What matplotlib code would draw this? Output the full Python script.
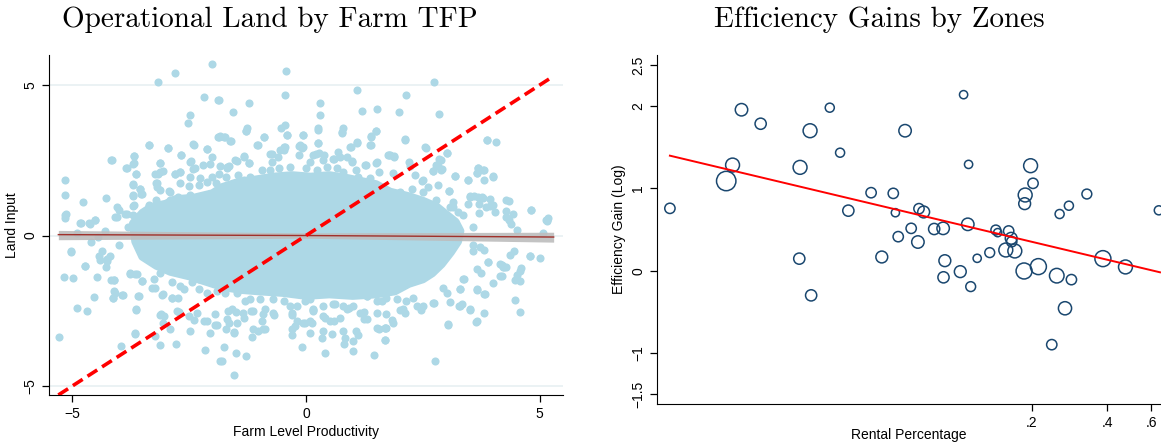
import numpy as np
import matplotlib
matplotlib.use("Agg")
import matplotlib.pyplot as plt
from matplotlib.ticker import FixedLocator, FixedFormatter, NullLocator

# ---- left panel: land input vs farm productivity
# scattered points away from the centre of the cloud
outer_x = [-2.01, -2.80, -3.16, -2.18, -1.89, -2.48, -2.53, -1.89, -3.35, -2.96, -2.39, -2.12, -4.17, -3.69, -2.67,
           -3.13, -3.83, -3.70, -3.64, -2.47, -2.01, -5.16, -5.16, -4.77, -4.29, -3.70, -3.56, -3.53, -3.70, -3.35,
           -3.21, -3.16, -3.07, -3.18, -2.80, -2.70, -2.93, -4.01, -4.08, -3.87, -3.71, -3.70, -3.42, -3.24, -3.03,
           -5.13, -5.15, -4.82, -4.51, -4.65,
           -0.42, -0.45, -1.87, -1.21, -1.57, 1.10, 1.19, 1.52, 0.31, 0.31, -1.27, -1.28, -1.86, -1.75, -1.62,
           -0.90, -1.03, -0.53, -0.45, -0.41, -0.07, 0.25, 0.25, -0.16, -0.06, 0.79, 0.76, 1.10, 0.96, 1.49,
           1.40, 1.37, 1.76, 1.50, 1.26, -0.73, -0.55, -0.45, -1.32, -1.22, -1.52, -1.65, -1.69, 0.21, 0.38,
           0.69, 0.59, 0.99,
           2.73, 2.13, 1.99, 2.85, 2.12, 2.56, 3.87, 1.79, 1.89, 2.20, 3.01, 2.85, 2.79, 2.72, 2.88,
           2.34, 3.18, 2.49, 3.46, 3.68, 3.80, 3.65, 4.00, 3.80, 3.06, 3.50, 3.60, 3.78, 4.35, 4.82,
           5.15, 3.14, 3.25, 3.37, 3.46, 3.70, 3.94, 4.04, 4.29, 4.35, 3.71,
           -5.02, -4.74, -5.18, -4.98, -4.47, -4.18, -4.10, -4.10, -4.13, -3.92, -4.54, -4.91, -4.68, -3.63, -3.60,
           -5.29, -3.65, -3.96, -3.12, -2.78, -2.17, -3.10, -3.03, -2.90, -3.77, -3.67, -3.51, -4.44, -4.40, -4.25,
           -4.28, -3.23, -3.08, -2.87, -2.71, -2.40, -2.19, -1.94, -1.84, -3.23,
           -1.54, -1.80, -1.75, -1.49, -1.28, -1.16, -1.02, -0.88, -1.65, -1.55, -1.72, -1.33, -0.95, -1.66, -1.49,
           -1.18, -0.69, -0.29, -0.08, -0.24, -0.02, 0.12, 0.16, 0.35, 0.41, 0.56, 0.79, 0.83, 0.82, 1.00,
           1.01, 1.12, 1.25, 1.25, 1.45, 1.62, 1.56, 1.72, 1.70, 0.63, 0.93, -0.29, 0.41, 0.59, -0.02,
           -0.88, 1.30,
           2.76, 3.04, 3.63, 3.80, 3.51, 3.34, 3.28, 3.08, 4.59, 4.48, 4.00, 4.19, 3.84, 3.65, 3.30,
           3.39, 3.75, 3.89, 4.24, 4.19, 4.51, 4.59, 4.48, 4.61, 4.79, 4.45, 4.37, 3.80, 3.57, 5.15,
           4.38, 4.51, 5.07, 2.73, 2.46, 2.11, 2.01, 1.83, 1.69, 1.69,
           -5.15, -5.03, -4.83, -4.62, -4.51, -4.72, -4.37, -4.19, -4.26, -4.05, -3.83, -4.9, -4.6, -4.3, -4.0,
           -3.8, -4.45, 4.82, 5.14, 3.57, 3.86, 4.0, 4.79, 4.15, 4.29, 4.57, 3.57, 3.72, 3.22, 3.08,
           4.29, 4.43, 5.0, 5.17]
outer_y = [5.71, 5.41, 5.09, 4.59, 4.52, 3.99, 3.74, 3.29, 3.00, 2.91, 3.02, 2.86, 2.51, 2.64, 2.68,
           2.42, 2.24, 2.37, 2.06, 2.48, 2.62, 1.83, 1.36, 1.13, 1.24, 1.71, 1.56, 1.37, 1.33, 0.99,
           1.19, 2.04, 2.15, 1.75, 2.04, 2.11, 1.48, 0.86, 0.61, 0.72, 0.97, 0.68, 0.70, 0.64, 0.68,
           0.70, 0.57, 0.43, 0.50, 0.43,
           5.47, 4.68, 4.52, 4.40, 4.09, 4.85, 4.15, 4.21, 4.40, 4.00, 3.57, 3.49, 3.29, 3.29, 3.15,
           3.29, 3.00, 3.56, 3.68, 3.35, 3.34, 3.56, 3.07, 2.98, 2.93, 3.56, 3.45, 3.11, 2.95, 3.46,
           3.27, 3.02, 2.68, 2.42, 2.36, 2.71, 2.84, 2.93, 2.62, 2.42, 2.51, 2.31, 2.26, 2.71, 2.66,
           2.77, 2.55, 2.49,
           5.09, 4.68, 4.12, 4.04, 3.18, 2.92, 3.18, 2.68, 2.62, 2.45, 2.73, 2.53, 2.34, 2.15, 2.17,
           2.02, 1.97, 1.81, 1.86, 2.26, 2.17, 2.08, 1.96, 1.86, 1.48, 1.30, 1.30, 1.26, 1.15, 0.84,
           0.53, 0.95, 0.77, 0.67, 1.06, 1.04, 0.99, 0.77, 0.81, 0.53, 0.75,
           -0.55, -1.00, -1.37, -1.42, -1.38, -1.48, -1.48, -1.86, -2.06, -1.96, -2.03, -2.42, -2.50, -2.46, -2.00,
           -3.38, -3.27, -3.66, -3.65, -3.60, -3.79, -2.62, -2.68, -3.12, -1.26, -1.28, -1.51, -0.67, -0.81, -0.79,
           -1.06, -1.73, -1.97, -2.06, -2.53, -2.82, -2.84, -2.99, -4.18, -3.35,
           -4.63, -4.16, -3.71, -3.91, -4.01, -3.36, -3.18, -3.12, -2.90, -3.20, -3.09, -2.73, -2.84, -2.51, -2.53,
           -2.51, -2.64, -3.29, -3.69, -3.01, -2.90, -2.90, -2.49, -3.40, -3.91, -3.27, -3.18, -3.42, -3.62, -3.51,
           -3.85, -3.29, -2.79, -2.53, -3.96, -2.17, -3.12, -3.07, -3.48, -2.28, -2.42, -2.56, -2.73, -2.84, -2.17,
           -2.45, -2.02,
           -4.18, -2.99, -2.87, -2.56, -2.47, -2.26, -2.35, -2.20, -2.55, -2.13, -1.59, -1.35, -1.95, -1.82, -1.78,
           -1.43, -1.26, -0.88, -1.06, -0.97, -1.30, -1.50, -1.48, -1.08, -0.68, -0.52, -0.64, -0.48, -0.32, 0.48,
           0.37, 0.17, 0.10, -2.24, -2.49, -2.58, -2.49, -2.80, -3.47, -3.07,
           0.67, -0.52, 0.41, 0.39, 0.50, -1.00, -0.50, -0.67, -0.84, 0.61, 0.73, 0.10, -0.20, 0.15, -0.30,
           0.30, -0.05, 0.84, 0.52, 0.28, 0.95, 1.00, -0.67, -0.94, -1.06, -1.17, -0.50, -0.39, 0.06, 0.95,
           0.61, 0.72, -0.74, 0.57]

# points in the ring above the dense core
upper_x = [-1.84, -1.73, -1.28, -0.90, -0.40, -0.07, 0.26, 0.76, 1.40, 1.50, -1.61, -3.35, -2.96, -2.41, -2.12,
           -1.04, -0.48, -0.13, -0.09, 0.25, 0.94, 1.10, 1.39, 2.12, 2.54, 3.88,
           -3.69, -4.15, -3.85, -3.69, -3.64, -3.12, -2.68, -2.48, -2.21, -2.05, -2.37, -2.42, -1.84, -1.69, -1.48,
           -1.32, -1.22, -0.78, -0.72, -0.59, -0.48, -0.16, 0.16, 0.28, 0.09, 0.37, 0.57, 0.73, 0.87,
           0.98, 1.28, 1.51, 1.78, 1.88, 3.01, 2.88, 4.07,
           -3.23, -3.12, -2.81, -2.69, -2.48, -2.26, -2.01, -1.87, -1.71, -1.45, -1.32, -1.20, -0.95, -0.77, -0.58,
           -0.34, 0.01, 0.23, 0.44, 0.66, 0.80, 1.08, 1.12, 1.37, 1.57, 1.87, 2.22, 2.51, 2.71, 2.83,
           2.90, 3.18, 3.46, 3.68, 3.65, 3.79, 4.00,
           -3.70, -3.55, -3.51, -3.70, -3.21, -3.19, -3.12, -2.91, -2.69, -2.51, -2.30, -2.12, -1.92, -1.73, -2.05,
           -2.48, -2.73, -2.92, -2.59, -2.34, -2.12, -1.84, 1.62, 1.83, 2.01, 2.26, 2.51, 2.61, 2.83, 3.06,
           3.50, 3.68, 3.77, 3.93, 4.29, -3.69, -3.35, -4.04, -2.84, -2.05, 2.79, 3.15]
upper_y = [3.31, 3.29, 3.46, 3.29, 3.34, 3.34, 3.51, 3.42, 3.31, 3.46, 3.14, 3.01, 2.92, 3.03, 2.87,
           3.01, 2.95, 3.01, 2.90, 3.07, 2.95, 3.09, 3.01, 3.20, 2.95, 3.18,
           2.64, 2.51, 2.26, 2.40, 2.06, 2.42, 2.68, 2.45, 2.34, 2.37, 2.23, 2.20, 2.31, 2.28, 2.48,
           2.64, 2.42, 2.71, 2.45, 2.62, 2.84, 2.68, 2.68, 2.75, 2.45, 2.51, 2.53, 2.62, 2.62,
           2.45, 2.36, 2.43, 2.68, 2.64, 2.73, 2.51, 3.12,
           2.04, 2.12, 2.04, 2.12, 1.95, 1.90, 1.95, 2.04, 1.95, 2.01, 1.84, 1.95, 2.17, 2.17, 2.26,
           2.28, 2.23, 2.17, 2.28, 2.23, 2.12, 2.17, 1.95, 1.90, 2.12, 2.08, 2.31, 1.84, 2.15, 2.31,
           2.20, 1.97, 1.86, 2.26, 2.08, 2.17, 1.97,
           1.69, 1.56, 1.37, 1.34, 1.75, 1.60, 1.51, 1.45, 1.73, 1.64, 1.67, 1.78, 1.73, 1.56, 1.39,
           1.34, 1.28, 1.17, 1.11, 1.11, 1.17, 1.28, 1.56, 1.42, 1.45, 1.53, 1.45, 1.60, 1.67, 1.48,
           1.28, 1.28, 1.28, 1.23, 1.17, 1.00, 1.00, 0.95, 0.95, 0.95, 1.17, 1.11]

# points in the ring below the dense core
lower_x = [-3.76, -3.62, -3.51, -4.10, -4.08, -3.94, -4.12, -3.26, -3.30, -3.12, -2.87, -2.69, -2.62, -2.73, -2.87,
           -3.05, -2.44, -2.30, -2.30, -3.58, -3.63, -2.05, -2.12, -1.91,
           -1.73, -1.48, -1.30, -1.20, -0.98, -0.70, -0.48, -0.34, -0.20, 0.09, 0.16, 0.37, 0.58, 0.80, 1.01,
           1.30, 1.51, 1.72, 1.94, 2.15, 2.29, 2.51, 2.72, 2.93, 3.01, 3.29, 3.65, 3.82, 3.36, 3.65,
           3.90, 4.15, 4.22,
           -3.12, -3.05, -2.76, -2.51, -2.34, -2.12, -1.94, -1.91, -1.69, -1.59, -1.48, -1.34, -1.13, -0.91, -0.70,
           -0.31, -0.20, -0.06, 0.09, 0.16, 0.37, 0.51, 0.73, 0.87, 1.15, 1.30, 1.51, 1.72, 1.87, 2.08,
           2.37, 3.04, 3.29, 3.50, 3.65,
           -3.65, -2.48, -2.05, -1.55, -1.13, -0.91, -0.31, 0.09, 0.37, 1.08, 1.51, 1.69]
lower_y = [-1.28, -1.28, -1.51, -1.47, -1.90, -1.98, -2.06, -1.45, -1.73, -1.23, -1.56, -1.67, -1.78, -2.06, -2.06,
           -1.95, -1.56, -1.45, -1.78, -2.01, -2.45, -1.43, -1.90, -1.84,
           -1.90, -1.92, -2.17, -2.12, -2.12, -2.12, -2.17, -2.34, -2.34, -2.12, -2.45, -2.34, -2.28, -2.34, -2.34,
           -2.01, -2.17, -2.06, -2.12, -2.17, -2.06, -2.34, -2.23, -1.73, -1.90, -1.78, -1.78, -1.95, -1.45, -1.11,
           -0.89, -1.34, -1.06,
           -2.65, -2.90, -2.51, -2.68, -2.56, -2.84, -2.62, -2.99, -2.79, -2.45, -2.90, -2.56, -2.51, -2.62, -2.56,
           -2.65, -2.84, -2.90, -2.84, -2.51, -2.68, -2.84, -2.73, -2.45, -2.56, -2.79, -2.56, -2.62, -2.90, -2.45,
           -2.34, -2.95, -2.34, -2.45, -2.84,
           -3.23, -3.18, -3.23, -3.23, -3.12, -3.12, -3.12, -3.23, -3.18, -3.18, -3.07, -3.07]

# outline of the solid core of the cloud, where dots merge into one area
core_x = [-3.7, -3.5, -3.3, -3.0, -2.8, -2.4, -2.0, -1.8, -1.5, -1.1, -0.7, -0.3, 0.1, 0.5, 0.9,
          1.2, 1.5, 1.8, 2.2, 2.5, 2.8, 3.0, 3.2, 3.3, 3.25, 3.1, 2.9, 2.7, 2.5, 2.2,
          1.9, 1.5, 1.0, 0.5, 0.0, -0.5, -1.0, -1.4, -1.8, -2.2, -2.5, -2.9, -3.2, -3.5, -3.65]
core_y = [0.4, 0.75, 0.95, 1.05, 1.2, 1.25, 1.4, 1.6, 1.75, 1.85, 1.95, 2.0, 1.95, 2.0, 1.9,
          1.8, 1.7, 1.45, 1.3, 1.15, 0.95, 0.7, 0.45, 0.15, -0.2, -0.55, -0.95, -1.25, -1.45, -1.6,
          -1.85, -1.95, -2.0, -1.95, -2.0, -1.9, -1.85, -1.8, -1.7, -1.5, -1.35, -1.2, -1.0, -0.7, -0.2]

fit_x = [-5.3, 0.0, 5.3]
fit_y = [0.03, 0.0, -0.05]
fit_lo = [-0.14, -0.09, -0.22]
fit_hi = [0.17, 0.09, 0.11]
diag = [-5.3, 5.2]

# ---- right panel: efficiency gains by zone
rent = [0.00714, 0.01199, 0.01271, 0.0138, 0.01646, 0.02349, 0.02366, 0.02594, 0.0262, 0.0311,
        0.0342, 0.0369, 0.0455, 0.0502, 0.0558, 0.0569, 0.0584, 0.0622, 0.0658, 0.0700,
        0.0707, 0.0738, 0.0813, 0.0883, 0.0886, 0.0897, 0.1034, 0.1066, 0.1108, 0.1116,
        0.1138, 0.1208, 0.1356, 0.1434, 0.1459, 0.1614, 0.1572, 0.1652, 0.166, 0.1708,
        0.1879, 0.187, 0.186, 0.1975, 0.2020, 0.2122, 0.240, 0.2513, 0.258, 0.2711,
        0.281, 0.2876, 0.3315, 0.3843, 0.473, 0.643]
gain = [0.757, 1.089, 1.283, 1.955, 1.785, 0.146, 1.255, 1.700, -0.300, 1.980,
        1.433, 0.729, 0.947, 0.166, 0.939, 0.704, 0.413, 1.700, 0.514, 0.348,
        0.753, 0.713, 0.506, 0.514, -0.081, 0.121, -0.012, 2.138, 0.563, 1.291,
        -0.194, 0.150, 0.219, 0.494, 0.462, 0.482, 0.251, 0.393, 0.352, 0.239,
        0.919, 0.814, -0.004, 1.275, 1.061, 0.049, -0.899, -0.061, 0.688, -0.457,
        0.789, -0.109, 0.931, 0.146, 0.045, 0.733]
zone_weight = [22, 78, 40, 32, 26, 26, 40, 40, 26, 17, 17, 26, 22, 29, 22, 14, 22, 32, 22, 32,
               22, 29, 26, 32, 26, 29, 29, 14, 32, 14, 20, 14, 20, 20, 14, 22, 40, 29, 22, 40,
               40, 29, 53, 40, 22, 53, 22, 44, 17, 36, 17, 22, 20, 53, 40, 17]
zfit_x = [0.00714, 0.65]
zfit_y = [1.397, -0.02]

sans = ["Liberation Sans", "DejaVu Sans"]
plt.rcParams["font.family"] = sans
plt.rcParams["axes.unicode_minus"] = True

fig = plt.figure(figsize=(11.61, 4.44), dpi=100)
ax1 = fig.add_axes([49 / 1161, 1 - 395 / 444, 514 / 1161, 340 / 444])
ax2 = fig.add_axes([657 / 1161, 1 - 404 / 444, 504 / 1161, 349 / 444])

# left
blue = "#add8e6"
for y in [-5, 0, 5]:
    ax1.axhline(y, color="#e9f1f3", lw=1.3, zorder=0)
ax1.fill(core_x, core_y, color=blue, ec=blue, lw=6, joinstyle="round", zorder=1)
land_x = outer_x + upper_x + lower_x
land_y = outer_y + upper_y + lower_y
ax1.scatter(land_x, land_y, s=34, color=blue, lw=0, zorder=2)
ax1.fill_between(fit_x, fit_lo, fit_hi, color="#bdbdbd", alpha=0.9, lw=0, zorder=3)
ax1.plot(fit_x, fit_y, color="#a0302a", lw=1.0, zorder=4)
ax1.plot(diag, diag, color="#ff0000", lw=2.6, ls=(0, (3.2, 1.6)), zorder=5)
ax1.set_xlim(-5.5, 5.5)
ax1.set_ylim(-5.3, 6.0)
ax1.set_xticks([-5, 0, 5])
ax1.set_yticks([-5, 0, 5])
ax1.set_xticklabels(["\u22125", "0", "5"])
ax1.set_yticklabels(["\u22125", "0", "5"], rotation=90, va="center")
ax1.set_xlabel("Farm Level Productivity", fontsize=10, labelpad=3)
ax1.set_ylabel("Land Input", fontsize=10, labelpad=3)

# right
ax2.scatter(rent, gain, s=np.array(zone_weight) * 2.5, facecolors="none",
            edgecolors="#1a476f", lw=1.1, zorder=2, clip_on=False)
ax2.plot(zfit_x, zfit_y, color="#ff0000", lw=1.4, zorder=3)
ax2.set_xscale("log")
ax2.set_xlim(0.00634, 0.656)
ax2.set_ylim(-1.62, 2.62)
ax2.xaxis.set_major_locator(FixedLocator([0.2, 0.4, 0.6]))
ax2.xaxis.set_major_formatter(FixedFormatter([".2", ".4", ".6"]))
ax2.xaxis.set_minor_locator(NullLocator())
ax2.set_yticks([-1.5, -1, 0, 1, 2, 2.5])
ax2.set_yticklabels(["\u22121.5", "\u22121", "0", "1", "2", "2.5"], rotation=90, va="center")
ax2.set_xlabel("Rental Percentage", fontsize=10, labelpad=-1)
ax2.set_ylabel("Efficiency Gain (Log)", fontsize=10, labelpad=4)

for ax in (ax1, ax2):
    ax.spines["top"].set_visible(False)
    ax.spines["right"].set_visible(False)
    ax.tick_params(direction="out", length=5, width=0.9, labelsize=10, colors="black")
    ax.set_facecolor("none")

fig.text(270 / 1161, 1 - 20 / 444, "Operational Land by Farm TFP", family="cmr10",
         fontsize=21, ha="center", va="center")
fig.text(879 / 1161, 1 - 20 / 444, "Efficiency Gains by Zones", family="cmr10",
         fontsize=21, ha="center", va="center")

fig.savefig("out.png", dpi=100)
